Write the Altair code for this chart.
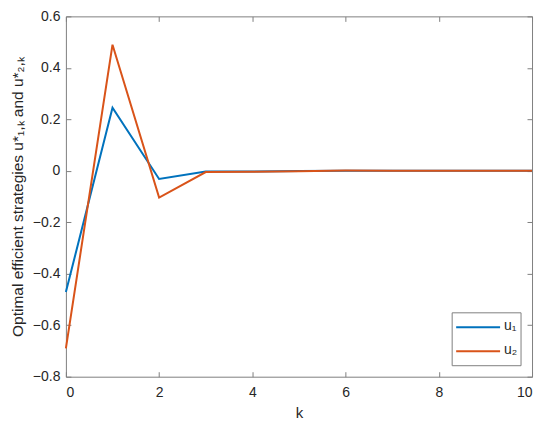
import altair as alt
import pandas as pd

k = [0, 1, 2, 3, 4, 5, 6, 7, 8, 9, 10]
u1 = [-0.471, 0.245, -0.032, -0.003, -0.003, -0.001, 0.0005, 0.0, 0.0, 0.0, 0.0]
u2 = [-0.690, 0.490, -0.104, -0.005, -0.004, -0.002, 0.0008, 0.0, 0.0, 0.0, 0.0]
series_names = ["u\u2081", "u\u2082"]
colors = ["#0072BD", "#D95319"]
x_ticks = [0, 2, 4, 6, 8, 10]
y_ticks = [-0.8, -0.6, -0.4, -0.2, 0, 0.2, 0.4, 0.6]

rows = []
for i, kk in enumerate(k):
    rows.append({"k": kk, "value": u1[i], "series": series_names[0]})
    rows.append({"k": kk, "value": u2[i], "series": series_names[1]})
df = pd.DataFrame(rows)
legend_df = pd.DataFrame({"series": series_names, "row": [0, 1]})

FONT = "Liberation Sans"
TXT = "#262626"
AX = "#7f7f7f"

W, H = 467, 361

xs = alt.Scale(domain=[0, 10], nice=False, zero=False)
ys = alt.Scale(domain=[-0.8, 0.6], nice=False, zero=False)

base = alt.Chart(df)

main = base.mark_line(strokeWidth=2).encode(
    x=alt.X(
        "k:Q",
        scale=xs,
        axis=alt.Axis(
            values=x_ticks, format="d", title="k", domain=False, ticks=False,
            grid=False, labelPadding=9, labelFont=FONT, labelFontSize=14,
            labelColor=TXT, titleFont=FONT, titleFontSize=15, titleFontWeight="normal",
            titleColor=TXT, titlePadding=6,
        ),
    ),
    y=alt.Y(
        "value:Q",
        scale=ys,
        axis=alt.Axis(
            values=y_ticks, format=".1~f",
            title="Optimal efficient strategies u*\u2081,\u2096 and u*\u2082,\u2096",
            domain=False, ticks=False, grid=False, labelPadding=6, labelFont=FONT,
            labelFontSize=14, labelColor=TXT, titleFont=FONT, titleFontSize=15.5,
            titleFontWeight="normal", titleColor=TXT, titlePadding=7,
        ),
    ),
    color=alt.Color(
        "series:N",
        scale=alt.Scale(domain=series_names, range=colors),
        legend=None,
    ),
)


def tick_axis(orient, vals):
    return alt.Axis(
        orient=orient, values=vals, labels=False, domain=False, grid=False,
        ticks=True, tickSize=5, tickColor=AX, tickWidth=1, offset=-5, title=None,
    )


ticks_bl = base.mark_line(opacity=0).encode(
    x=alt.X("k:Q", scale=xs, axis=tick_axis("bottom", x_ticks)),
    y=alt.Y("value:Q", scale=ys, axis=tick_axis("left", y_ticks)),
    detail="series:N",
)
ticks_tr = base.mark_line(opacity=0).encode(
    x=alt.X("k:Q", scale=xs, axis=tick_axis("top", x_ticks)),
    y=alt.Y("value:Q", scale=ys, axis=tick_axis("right", y_ticks)),
    detail="series:N",
)

# manual legend (MATLAB-style box in lower right)
lg = alt.Chart(legend_df)
LX0, LX1, LY0, LY1 = 387, 456, 297, 350
legend_box = lg.transform_filter(alt.datum.row == 0).mark_rect(
    fill="white", stroke=AX, strokeWidth=1
).encode(
    x=alt.value(LX0), x2=alt.value(LX1), y=alt.value(LY0), y2=alt.value(LY1)
)
legend_layers = [legend_box]
row_y = [311.5, 335.5]
for i, name in enumerate(series_names):
    sel = lg.transform_filter(alt.datum.row == i)
    legend_layers.append(
        sel.mark_rule(strokeWidth=2, color=colors[i]).encode(
            x=alt.value(391), x2=alt.value(435), y=alt.value(row_y[i])
        )
    )
    legend_layers.append(
        sel.mark_text(
            align="left", baseline="middle", font=FONT, fontSize=14, color=TXT
        ).encode(
            x=alt.value(439), y=alt.value(row_y[i] - 1), text="series:N"
        )
    )

chart = (
    alt.layer(main, ticks_bl, ticks_tr, *legend_layers)
    .resolve_axis(x="independent", y="independent")
    .properties(
        width=W,
        height=H,
        autosize=alt.AutoSizeParams(type="none"),
        padding={"left": 58, "top": 8, "right": 10, "bottom": 46},
        background="white",
    )
    .configure_view(stroke=AX, strokeWidth=1)
)

chart.save("out.html", embed_options={"renderer": "svg", "actions": False})
